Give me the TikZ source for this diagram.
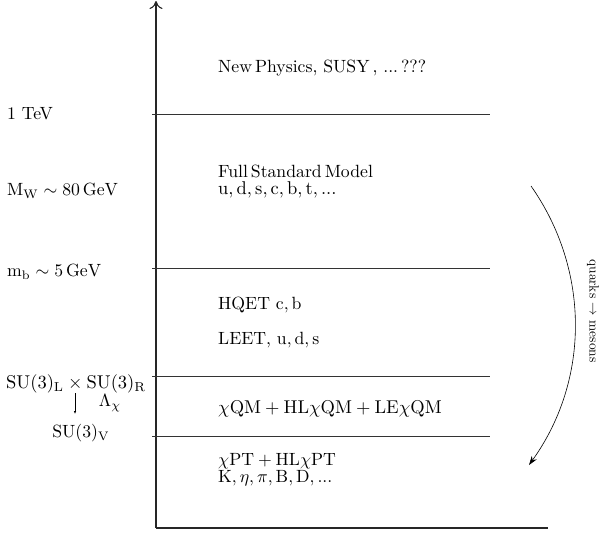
\documentclass[tikz,border=0pt]{standalone}
\usepackage{graphicx}
\usetikzlibrary{arrows.meta}
\newcommand\sk[1]{\scalebox{1.77}{#1}}
\newcommand\skm[1]{\scalebox{1.85}{#1}}
\begin{document}
\begin{tikzpicture}[x=1pt,y=-1pt,
  lbl/.style={font=\normalsize, inner sep=0pt, anchor=west},
  axis/.style={line width=1.1pt, draw=black!85},
  level/.style={line width=0.7pt, draw=black!80}]
\useasboundingbox (0,0) rectangle (605,538);
% axes
\coordinate (o) at (156,528);
\coordinate (top) at (156,1);
\coordinate (xend) at (548,528);
\draw[axis,-{To[length=8pt,width=13pt]}] (o) -- (top);
\draw[axis] (o) -- (xend);
% levels
\foreach \y/\n in {114/a,268/b,376/c,436/d}{
  \coordinate (l\n) at (152,\y);
  \coordinate (r\n) at (490,\y);
  \draw[level] (l\n) -- (r\n);
}
% left labels
\node[lbl] (tev) at (7,114) {\sk{1 TeV}};
\node[lbl] (mw) at (7,191) {\sk{$\mathrm{M_W}\sim 80\,\mathrm{GeV}$}};
\node[lbl] (mb) at (7,272) {\sk{$\mathrm{m_b}\sim 5\,\mathrm{GeV}$}};
\node[lbl] (sulr) at (6,384) {\skm{$\mathrm{SU(3)_L}\times\mathrm{SU(3)_R}$}};
\node[lbl, anchor=center] (suv) at (81,433) {\sk{$\mathrm{SU(3)_V}$}};
\node[lbl, anchor=center] (lam) at (110,403) {\sk{$\Lambda_\chi$}};
\coordinate (sa) at (75,393);
\coordinate (sb) at (75,414);
\draw[line width=0.6pt,-{Latex[length=3pt,width=2.5pt]}] (sa) -- (sb);
% region texts
\node[lbl] (np) at (218,68) {\sk{New\,Physics, SUSY\,, ...\,???}};
\node[lbl] (fsm) at (218,171) {\sk{Full\,Standard\,Model}};
\node[lbl] (fsq) at (218,190) {\skm{$\mathrm{u,d,s,c,b,t,}$\,...}};
\node[lbl] (hq) at (218,305) {\sk{HQET~$\mathrm{c,b}$}};
\node[lbl] (le) at (218,340) {\sk{LEET, $\mathrm{u,d,s}$}};
\node[lbl] (qm) at (218,409) {\skm{$\chi\mathrm{QM}+\mathrm{HL}\chi\mathrm{QM}+\mathrm{LE}\chi\mathrm{QM}$}};
\node[lbl] (pt) at (218,461) {\sk{$\chi\mathrm{PT}+\mathrm{HL}\chi\mathrm{PT}$}};
\node[lbl] (pts) at (218,478) {\sk{$\mathrm{K},\eta,\pi,\mathrm{B},\mathrm{D},$\,...}};
% curved arrow
\coordinate (ca) at (531,186);
\coordinate (cb) at (529,465);
\draw[line width=0.6pt,-{Stealth[length=9pt,width=6pt]}] (ca) .. controls (590,270) and (590,380) .. (cb);
\node[lbl, anchor=center, rotate=-90] (qm2) at (593,311) {\scalebox{1.34}{quarks $\rightarrow$ mesons}};
\end{tikzpicture}
\end{document}
